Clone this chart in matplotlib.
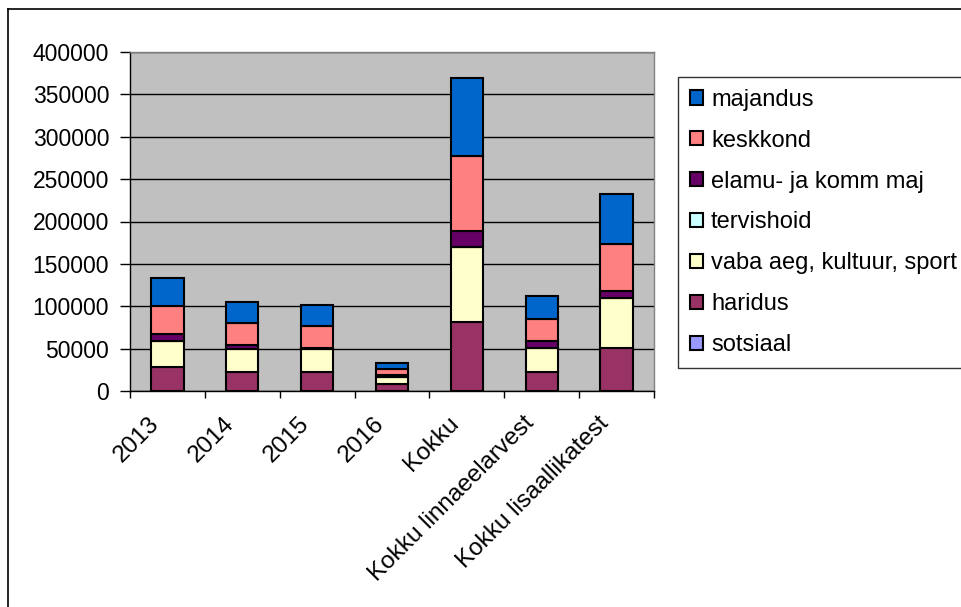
import numpy as np
import matplotlib
matplotlib.use("Agg")
import matplotlib.pyplot as plt
from matplotlib.lines import Line2D

plt.rcParams['font.family'] = ['Liberation Sans', 'DejaVu Sans']

categories = ['2013', '2014', '2015', '2016', 'Kokku',
              'Kokku linnaeelarvest', 'Kokku lisaallikatest']

# stacked from bottom to top
sotsiaal   = [0, 0, 0, 0, 0, 0, 0]
haridus    = [28000, 23000, 23000, 8000, 81000, 23000, 51000]
vaba_aeg   = [31000, 26500, 26500, 9000, 89000, 28000, 59000]
tervishoid = [0, 0, 0, 0, 0, 0, 0]
elamu      = [8000, 4500, 1500, 1500, 19000, 8000, 8000]
keskkond   = [33000, 26000, 26000, 7000, 88000, 26000, 56000]
majandus   = [33000, 25000, 25000, 8000, 92000, 27000, 58000]

series = [
    ('sotsiaal', sotsiaal, '#9999FF'),
    ('haridus', haridus, '#993366'),
    ('vaba aeg, kultuur, sport', vaba_aeg, '#FFFFCC'),
    ('tervishoid', tervishoid, '#CCFFFF'),
    ('elamu- ja komm maj', elamu, '#660066'),
    ('keskkond', keskkond, '#FF8080'),
    ('majandus', majandus, '#0066CC'),
]

W, H = 962, 607
fig = plt.figure(figsize=(W / 100, H / 100), dpi=100)

# outer chart frame (left and top edges visible)
fig.add_artist(Line2D([8 / W, 8 / W], [0, 1 - 9 / H], color='black', lw=1.2))
fig.add_artist(Line2D([8 / W, 1], [1 - 9 / H, 1 - 9 / H], color='black', lw=1.2))

ax = fig.add_axes([130 / W, 1 - 391 / H, (654 - 130) / W, (391 - 52) / H])
ax.set_facecolor('#C0C0C0')

x = np.arange(len(categories))
bottom = np.zeros(len(categories))
handles = []
for name, vals, col in series:
    vals = np.array(vals, dtype=float)
    b = ax.bar(x, vals, width=0.43, bottom=bottom, color=col,
               edgecolor='black', linewidth=1.5, label=name, zorder=3)
    bottom += vals
    handles.append(b)

ax.set_xlim(-0.5, len(categories) - 0.5)
ax.set_ylim(0, 400000)
ax.set_yticks(np.arange(0, 400001, 50000))
ax.yaxis.grid(True, color='black', lw=1, zorder=1)
ax.set_axisbelow(True)

ax.set_xticks(np.arange(-0.5, len(categories), 1), minor=False)
ax.set_xticklabels([])
# label ticks slightly left of the bar centres, like the original layout
ax.set_xticks(x - 0.15, minor=True)
ax.set_xticklabels(categories, minor=True, rotation=45, ha='right',
                   va='center', rotation_mode='anchor', fontsize=17.5)
ax.tick_params(axis='x', which='minor', length=0, pad=21)
ax.tick_params(axis='x', which='major', length=5, width=1, direction='out')
ax.tick_params(axis='y', length=7, width=1, direction='out', labelsize=16.5, pad=8)

for s in ['top', 'right']:
    ax.spines[s].set_color('#808080')
    ax.spines[s].set_linewidth(1)
for s in ['left', 'bottom']:
    ax.spines[s].set_color('black')
    ax.spines[s].set_linewidth(1)

leg = fig.legend(handles[::-1], [s[0] for s in series][::-1],
                 loc='upper left', bbox_to_anchor=(678 / W, 1 - 77 / H),
                 fontsize=17, frameon=True, fancybox=False, shadow=False,
                 handlelength=0.55, handleheight=0.55, handletextpad=0.35,
                 labelspacing=0.8, borderpad=0.5, borderaxespad=0)
leg.get_frame().set_edgecolor('black')
leg.get_frame().set_linewidth(1)

fig.savefig('out.png', dpi=100)
